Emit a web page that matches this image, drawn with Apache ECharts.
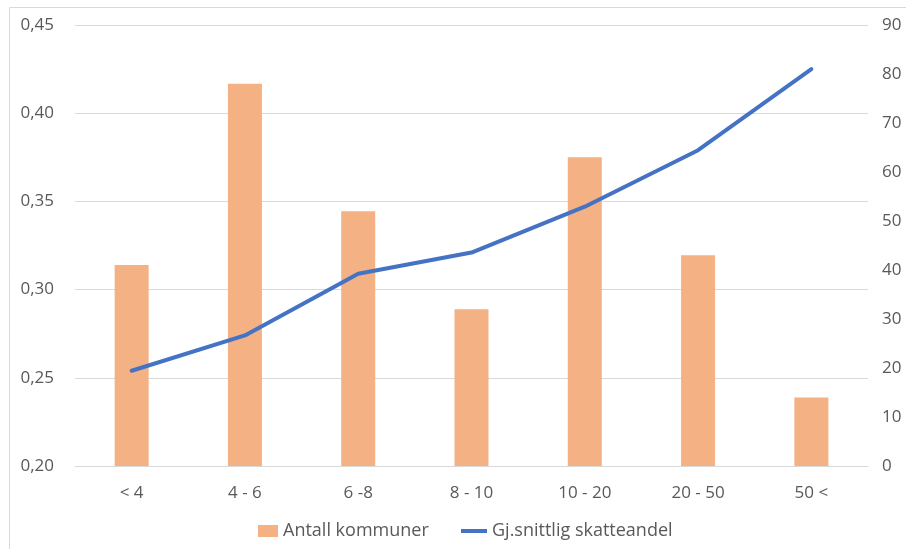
<!DOCTYPE html>
<html>
<head>
<meta charset="utf-8">
<script src="https://cdn.jsdelivr.net/npm/echarts@6/dist/echarts.min.js"></script>
<style>
  html, body { margin: 0; padding: 0; background: #ffffff; }
  #chart { width: 906px; height: 549px; }
</style>
</head>
<body>
<div id="chart"></div>
<script>
// Population groups (in thousands) on the category axis
const categories = ['< 4', '4 - 6', '6 -8', '8 - 10', '10 - 20', '20 - 50', '50 <'];
// Number of municipalities per group (right axis)
const antallKommuner = [41, 78, 52, 32, 63, 43, 14];
// Average tax share per group (left axis)
const skatteandel = [0.254, 0.274, 0.309, 0.321, 0.347, 0.379, 0.425];
const leftTicks = { min: 0.20, max: 0.45, interval: 0.05 };
const rightTicks = { min: 0, max: 90, interval: 10 };

const textColor = '#595959';
const fontFamily = 'Open Sans, Noto Sans, sans-serif';
const barColor = '#F4B183';
const lineColor = '#4472C4';

const chart = echarts.init(document.getElementById('chart'), null, { renderer: 'canvas' });
chart.setOption({
  animation: false,
  textStyle: { fontFamily: fontFamily, color: textColor },
  graphic: [{
    type: 'rect',
    shape: { x: 9.5, y: 7.5, width: 1000, height: 1000 },
    style: { fill: 'none', stroke: '#d9d9d9', lineWidth: 1 },
    silent: true,
    z: -1
  }],
  grid: { left: 75, right: 38, top: 25, bottom: 83 },
  legend: [
    {
      left: 253,
      top: 517,
      itemWidth: 20,
      itemHeight: 12,
      textStyle: { fontSize: 18, color: textColor, fontFamily: fontFamily },
      data: [{ name: 'Antall kommuner', icon: 'rect', itemStyle: { color: barColor } }]
    },
    {
      left: 456,
      top: 517,
      itemWidth: 26,
      itemHeight: 4,
      textStyle: { fontSize: 18, color: textColor, fontFamily: fontFamily },
      data: [{ name: 'Gj.snittlig skatteandel', icon: 'rect', itemStyle: { color: lineColor } }]
    }
  ],
  xAxis: {
    type: 'category',
    data: categories,
    axisLine: { show: true, lineStyle: { color: '#d9d9d9', width: 1 } },
    axisTick: { show: false },
    axisLabel: { color: textColor, fontSize: 17, margin: 19, fontFamily: fontFamily }
  },
  yAxis: [
    {
      type: 'value',
      position: 'left',
      min: leftTicks.min,
      max: leftTicks.max,
      interval: leftTicks.interval,
      axisLine: { show: false },
      axisTick: { show: false },
      splitLine: { lineStyle: { color: '#d9d9d9', width: 1 } },
      axisLabel: {
        color: textColor,
        fontSize: 17,
        margin: 21,
        fontFamily: fontFamily,
        formatter: v => v.toFixed(2).replace('.', ',')
      }
    },
    {
      type: 'value',
      position: 'right',
      min: rightTicks.min,
      max: rightTicks.max,
      interval: rightTicks.interval,
      axisLine: { show: false },
      axisTick: { show: false },
      splitLine: { show: false },
      axisLabel: {
        color: textColor,
        fontSize: 17,
        margin: 14,
        fontFamily: fontFamily
      }
    }
  ],
  series: [
    {
      name: 'Antall kommuner',
      type: 'bar',
      yAxisIndex: 1,
      data: antallKommuner,
      barWidth: 34,
      itemStyle: { color: barColor },
      z: 2
    },
    {
      name: 'Gj.snittlig skatteandel',
      type: 'line',
      yAxisIndex: 0,
      data: skatteandel,
      showSymbol: false,
      symbol: 'none',
      lineStyle: { color: lineColor, width: 4, cap: 'round', join: 'round' },
      itemStyle: { color: lineColor },
      z: 3
    }
  ]
});
</script>
</body>
</html>
